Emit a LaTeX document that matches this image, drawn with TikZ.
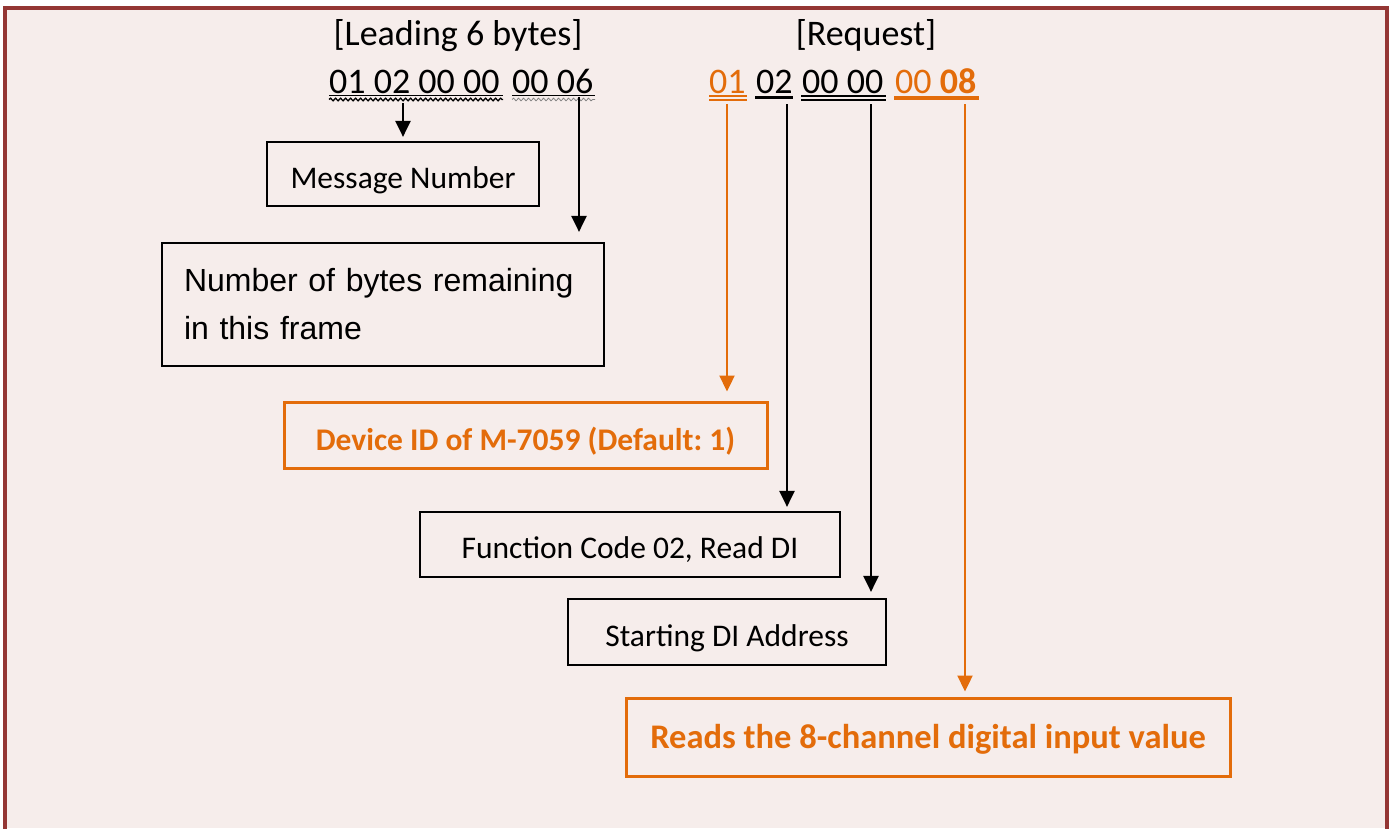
\documentclass[tikz,border=0pt]{standalone}
\usepackage{fontspec}
\setmainfont{Carlito}
\newfontfamily\arialf{Liberation Sans}
\frenchspacing
\usetikzlibrary{arrows.meta,decorations.pathmorphing}
\definecolor{bgc}{HTML}{F6EDEB}
\definecolor{brd}{HTML}{943634}
\definecolor{org}{HTML}{E36C0A}
\definecolor{sq}{HTML}{808080}
\tikzset{
  box/.style={draw=black, line width=2.2pt, inner sep=0pt, text height=28pt, text depth=0pt, font=\fontsize{31.5}{38}\selectfont},
  obox/.style={draw=org, line width=3pt, inner sep=0pt, text=org, text depth=0pt, font=\fontsize{31.5}{38}\selectfont\bfseries},
  arr/.style={-{Triangle[width=15pt,length=16pt]}, line width=2.3pt},
  oarr/.style={arr, draw=org, fill=org},
  byte/.style={inner sep=0pt, anchor=base west, font=\fontsize{36}{43}\selectfont},
  hdr/.style={inner sep=0pt, anchor=base, font=\fontsize{36}{43}\selectfont},
  squig/.style={decorate, decoration={snake, amplitude=1.3pt, segment length=5pt}}
}
\begin{document}
\begin{tikzpicture}[x=1pt,y=-1pt]
\useasboundingbox (0,0) rectangle (1392,828);
\fill[white] (0,0) rectangle (1392,828);
\fill[bgc] (5,8) rectangle (1387,828);
\draw[brd, line width=4pt] (5,830) -- (5,8) -- (1387,8) -- (1387,830);

% headers
\node[hdr] (hlead) at (458,45) {[Leading 6 bytes]};
\node[hdr] (hreq) at (866,45) {[Request]};

% leading bytes
\node[byte] (l1) at (329,93) {01 02 00 00};
\node[byte] (l2) at (512,93) {00 06};
\draw[line width=1.5pt] (l1.base west) ++(0,2.5) -- ++(174,0);
\draw[line width=1.5pt] (l2.base west) ++(0,2.5) -- ++(83,0);
\draw[squig, line width=1.3pt] (329,99.5) -- (503,99.5);
\draw[squig, line width=0.8pt, sq] (512,99.5) -- (595,99.5);

% request bytes
\node[byte, text=org] (r1) at (709,93) {01};
\node[byte] (r2) at (756,93) {02};
\node[byte] (r3) at (802,93) {00 00};
\node[byte, text=org] (r4) at (895,93) {00 \textbf{08}};
\draw[org, line width=1.3pt] (709,96) -- (747,96) (709,100) -- (747,100);
\draw[line width=3pt] (755,97.5) -- (793,97.5);
\draw[line width=1.3pt] (801,96) -- (886,96) (801,100) -- (886,100);
\draw[org, line width=3.5pt] (894,98) -- (979,98);

% boxes
\node[box, minimum width=272pt, minimum height=64pt] (msg) at (403,174) {Message Number};
\node[box, minimum width=442pt, minimum height=123pt, text width=398pt, inner xsep=22pt, align=left,
      text height=, text depth=, font=\arialf\fontsize{32}{48}\selectfont] (num) at (383,304.5) {Number of bytes remaining\\in this frame};
\node[obox, text height=30pt, minimum width=483pt, minimum height=66pt] (dev) at (525.5,435) {Device ID of M-7059 (Default: 1)};
\node[box, minimum width=420pt, minimum height=65pt] (fun) at (630,544.5) {Function Code 02, Read DI};
\node[box, minimum width=318pt, minimum height=66pt] (sda) at (727,632) {Starting DI Address};
\node[obox, text height=22pt, minimum width=604pt, minimum height=78pt, font=\fontsize{34.5}{40}\selectfont\bfseries] (rd) at (928,737) {Reads the 8-channel digital input value};

% arrow start points
\coordinate (a0) at (403,103);
\coordinate (a1) at (579,97);
\coordinate (a2) at (727,104);
\coordinate (a3) at (787,104);
\coordinate (a4) at (871,104);
\coordinate (a5) at (965,104);

\draw[arr] (a0) -- ([yshift=4pt]a0 |- msg.north);
\draw[arr] (a1) -- ([yshift=10pt]a1 |- num.north);
\draw[oarr] (a2) -- ([yshift=9pt]a2 |- dev.north);
\draw[arr] (a3) -- ([yshift=4pt]a3 |- fun.north);
\draw[arr] (a4) -- ([yshift=6pt]a4 |- sda.north);
\draw[oarr] (a5) -- ([yshift=5pt]a5 |- rd.north);
\end{tikzpicture}
\end{document}
